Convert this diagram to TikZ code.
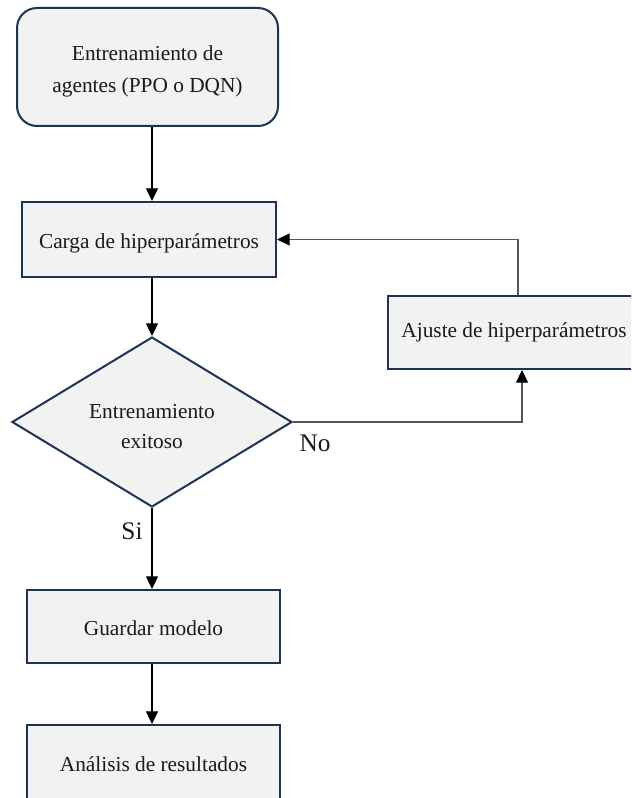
\documentclass[tikz,border=0pt]{standalone}
\usepackage{fontspec}
\setmainfont{Liberation Serif}
\usetikzlibrary{shapes.geometric,arrows.meta,calc}
\definecolor{boxfill}{HTML}{F2F2F2}
\definecolor{boxline}{HTML}{1F3455}
\definecolor{txt}{HTML}{1A1A1A}
\definecolor{loopline}{HTML}{555555}
\newcommand{\lowr}[2]{\raisebox{-#1}[\height][\depth]{#2}}
\begin{document}
\begin{tikzpicture}[x=0.75pt,y=-0.75pt,
  box/.style={draw=boxline,line width=1.5pt,fill=boxfill,inner sep=0pt,
    font=\fontsize{16}{22}\selectfont,text=txt,align=center},
  rbox/.style={box,rounded corners=15pt,font=\fontsize{16}{24}\selectfont},
  dia/.style={box,diamond,aspect=1.647},
  arr/.style={line width=0.8pt,-{Triangle[width=9pt,length=9.5pt,color=black]}},
  looparr/.style={arr,draw=loopline},
  lbl/.style={font=\fontsize{19}{22}\selectfont,text=txt,inner sep=0pt}]
\useasboundingbox (0,0) rectangle (631,798);
\clip (0,0) rectangle (631,798);
\node[rbox,minimum width=261*0.75pt,minimum height=118*0.75pt] (top) at (147.5,67) {\lowr{3.5pt}{Entrenamiento de}\\\lowr{3.5pt}{agentes (PPO o DQN)}};
\node[box,minimum width=254*0.75pt,minimum height=75*0.75pt] (carga) at (149,239.5) {\lowr{3pt}{Carga de hiperparámetros}};
\node[dia,minimum width=280*0.75pt,minimum height=170*0.75pt] (dec) at (152,422) {\lowr{3.5pt}{Entrenamiento}\\\lowr{3.5pt}{exitoso}};
\node[box,minimum width=252*0.75pt,minimum height=73*0.75pt] (ajuste) at (514,332.5) {Ajuste de hiperparámetros};
\node[box,minimum width=253*0.75pt,minimum height=73*0.75pt] (guardar) at (153.5,626.5) {\lowr{1.5pt}{Guardar modelo}};
\node[box,minimum width=253*0.75pt,minimum height=75*0.75pt] (analisis) at (153.5,762.5) {\lowr{1pt}{Análisis de resultados}};
\coordinate (colx) at (152,0);
\coordinate (nox) at (522,0);
\coordinate (upx) at (518,0);
\draw[arr] (top.south -| colx) -- (carga.north -| colx);
\draw[arr] (carga.south -| colx) -- (dec.north);
\draw[looparr] (dec.east) -| (ajuste.south -| nox);
\draw[looparr] (ajuste.north -| upx) |- (carga.east);
\draw[arr] (dec.south) -- (guardar.north -| dec.south);
\draw[arr] (guardar.south -| colx) -- (analisis.north -| colx);
\node[lbl] (no) at (315,443) {No};
\node[lbl] (si) at (132,531) {Si};
\end{tikzpicture}
\end{document}
